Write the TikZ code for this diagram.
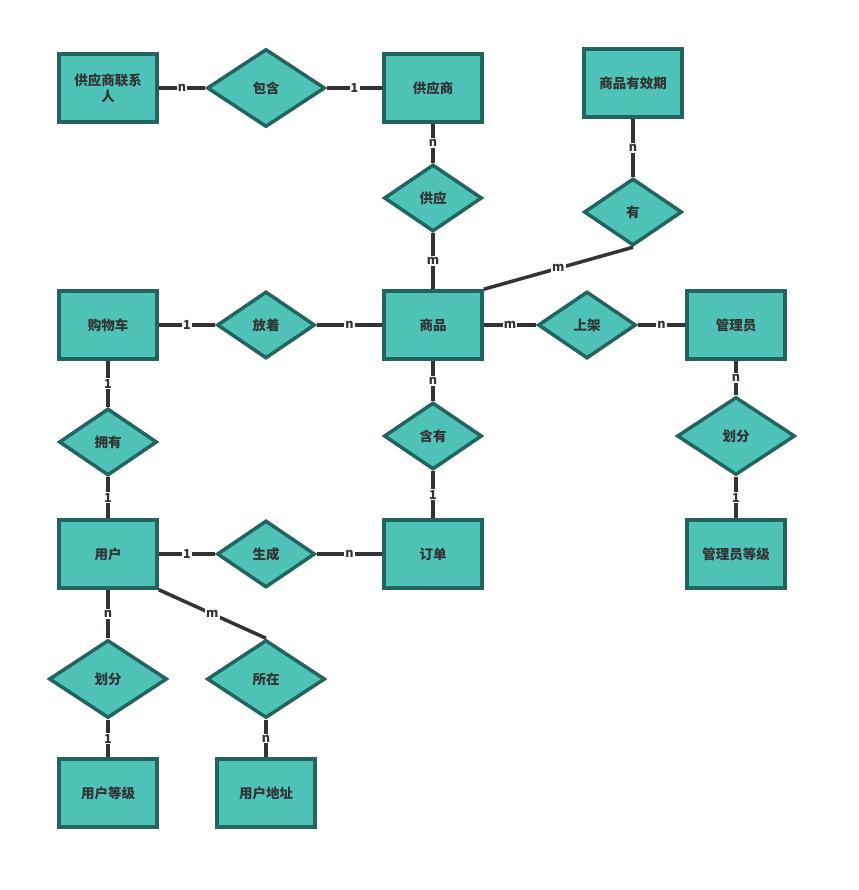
\documentclass[tikz,border=0pt]{standalone}
\usepackage{fontspec}
\setmainfont{Noto Sans CJK SC}
\usepackage{xcolor}
\usetikzlibrary{shapes.geometric}
\definecolor{erfill}{HTML}{4FC3B8}
\definecolor{erline}{HTML}{22645E}
\definecolor{edgegray}{HTML}{333333}

\begin{document}
\begin{tikzpicture}[x=1pt, y=-1pt,
    entity/.style={draw=erline, fill=erfill, line width=3.5pt, minimum width=98pt,
        minimum height=68pt, inner sep=2pt, align=center,
        font=\fontsize{13.5}{16}\selectfont\bfseries, text=edgegray},
    rel/.style={diamond, draw=erline, fill=erfill, line width=3.5pt, inner sep=0pt,
        minimum width=98pt, minimum height=67pt,
        font=\fontsize{13.5}{16}\selectfont\bfseries, text=edgegray},
    bigrel/.style={rel, minimum width=118pt, minimum height=78pt},
    link/.style={draw=edgegray, line width=3.5pt},
    card/.style={fill=white, inner sep=1.2pt, text=edgegray,
        font=\fontsize{12.5}{12.5}\selectfont\bfseries}]
\useasboundingbox (0,0) rectangle (858,890);
% entities
\node[entity] (lxr)  at (108,88)  {供应商联系\\人};
\node[entity] (gys)  at (433,88)  {供应商};
\node[entity] (yxq)  at (633,83)  {商品有效期};
\node[entity] (gwc)  at (108,325) {购物车};
\node[entity] (sp)   at (433,325) {商品};
\node[entity] (gly)  at (736,325) {管理员};
\node[entity] (yh)   at (108,554) {用户};
\node[entity] (dd)   at (433,554) {订单};
\node[entity] (gldj) at (736,554) {管理员等级};
\node[entity] (yhdj) at (108,793) {用户等级};
\node[entity] (yhdz) at (266,793) {用户地址};
% relations
\node[bigrel] (bh)   at (266,88)  {包含};
\node[rel]    (gy)   at (433,198) {供应};
\node[rel]    (you)  at (633,212) {有};
\node[rel]    (fz)   at (266,325) {放着};
\node[rel]    (sj)   at (587,325) {上架};
\node[rel]    (yy)   at (108,442) {拥有};
\node[rel]    (hy)   at (433,436) {含有};
\node[bigrel] (hf1)  at (736,436) {划分};
\node[rel]    (sc)   at (266,554) {生成};
\node[bigrel] (hf2)  at (108,679) {划分};
\node[bigrel] (sz)   at (266,679) {所在};
% connectors
\draw[link] (lxr) -- node[card] {n} (bh);
\draw[link] (bh) -- node[card] {1} (gys);
\draw[link] (gys) -- node[card] {n} (gy);
\draw[link] (gy) -- node[card] {m} (sp);
\draw[link] (yxq) -- node[card] {n} (you);
\draw[link] (you.south) -- node[card] {m} (sp.north east);
\draw[link] (gwc) -- node[card] {1} (fz);
\draw[link] (fz) -- node[card] {n} (sp);
\draw[link] (sp) -- node[card] {m} (sj);
\draw[link] (sj) -- node[card] {n} (gly);
\draw[link] (gwc) -- node[card] {1} (yy);
\draw[link] (yy) -- node[card] {1} (yh);
\draw[link] (sp) -- node[card] {n} (hy);
\draw[link] (hy) -- node[card] {1} (dd);
\draw[link] (gly) -- node[card] {n} (hf1);
\draw[link] (hf1) -- node[card] {1} (gldj);
\draw[link] (yh) -- node[card] {1} (sc);
\draw[link] (sc) -- node[card] {n} (dd);
\draw[link] (yh) -- node[card] {n} (hf2);
\draw[link] (hf2) -- node[card] {1} (yhdj);
\draw[link] (yh.south east) -- node[card] {m} (sz.north);
\draw[link] (sz) -- node[card] {n} (yhdz);
\end{tikzpicture}
\end{document}
